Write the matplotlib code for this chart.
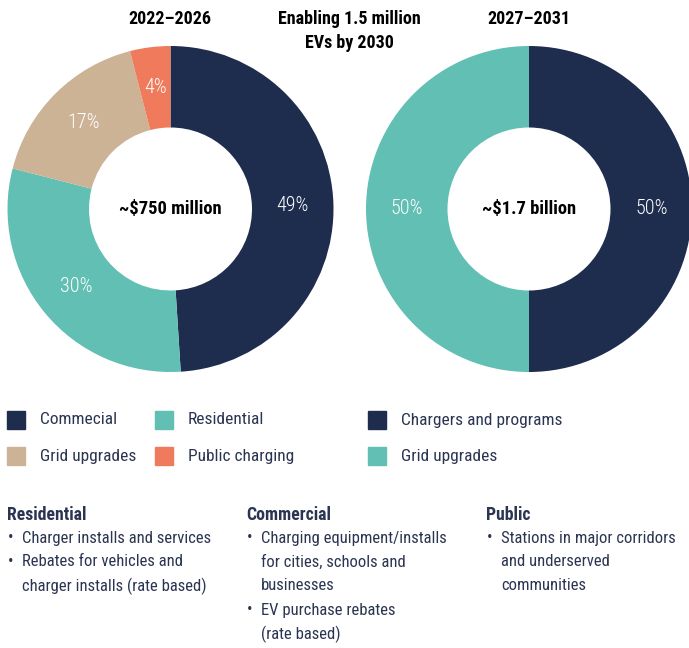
import numpy as np
import matplotlib
matplotlib.use("Agg")
import matplotlib.pyplot as plt

# data
left_labels = ["Commecial", "Residential", "Grid upgrades", "Public charging"]
left_values = [49, 30, 17, 4]
right_labels = ["Chargers and programs", "Grid upgrades"]
right_values = [50, 50]

navy, teal, tan, orange = "#1e2c4e", "#62bfb3", "#cdb396", "#ef7b5c"
left_colors = [navy, teal, tan, orange]
right_colors = [navy, teal]
txt_col = "#2b3552"

plt.rcParams["font.family"] = ["Roboto Condensed", "DejaVu Sans"]

W, H = 689, 648
fig = plt.figure(figsize=(W / 100, H / 100), dpi=100)


def px_axes(x0, y0, x1, y1):
    return fig.add_axes([x0 / W, 1 - y1 / H, (x1 - x0) / W, (y1 - y0) / H])


def donut(ax, values, colors, center_text):
    ax.pie(values, colors=colors, startangle=90, counterclock=False,
           radius=1, wedgeprops=dict(width=0.5, linewidth=0))
    total = sum(values)
    start = 90
    for v in values:
        mid = np.deg2rad(start - v / total * 180)
        ax.text(0.75 * np.cos(mid), 0.75 * np.sin(mid), f"{v}%", color="white",
                ha="center", va="center", fontsize=14.5, fontweight="light")
        start -= v / total * 360
    ax.text(0, 0, center_text, ha="center", va="center", fontsize=13.3,
            fontweight="bold", color="black")
    ax.set_xlim(-1, 1)
    ax.set_ylim(-1, 1)
    ax.set_aspect("equal")
    ax.axis("off")


ax1 = px_axes(7, 46, 334, 372)
donut(ax1, left_values, left_colors, "~$750 million")
ax2 = px_axes(366, 46, 692, 372)
donut(ax2, right_values, right_colors, "~$1.7 billion")


def ftxt(x, y, s, **kw):
    fig.text(x / W, 1 - y / H, s, **kw)


ftxt(170, 19, "2022\u20132026", ha="center", va="center", fontsize=13, fontweight="bold")
ftxt(349, 19, "Enabling 1.5 million", ha="center", va="center", fontsize=13, fontweight="bold")
ftxt(349, 43, "EVs by 2030", ha="center", va="center", fontsize=13, fontweight="bold")
ftxt(529, 19, "2027\u20132031", ha="center", va="center", fontsize=13, fontweight="bold")

# legend
leg_items = [
    (7, 420, navy, left_labels[0]), (155, 420, teal, left_labels[1]),
    (7, 456, tan, left_labels[2]), (155, 456, orange, left_labels[3]),
    (368, 420, navy, right_labels[0]), (368, 456, teal, right_labels[1]),
]
for x, y, c, lab in leg_items:
    fig.patches.append(plt.Rectangle((x / W, 1 - (y + 9) / H), 18 / W, 18 / H,
                                     transform=fig.transFigure, color=c, figure=fig))
    ftxt(x + 33, y, lab, ha="left", va="center", fontsize=12.5, color=txt_col)

# notes
notes = [
    (7, "Residential", [["Charger installs and services"],
                        ["Rebates for vehicles and", "charger installs (rate based)"]]),
    (246, "Commercial", [["Charging equipment/installs", "for cities, schools and", "businesses"],
                         ["EV purchase rebates", "(rate based)"]]),
    (486, "Public", [["Stations in major corridors", "and underserved", "communities"]]),
]
for x, head, bullets in notes:
    ftxt(x, 515, head, ha="left", va="center", fontsize=12.8, fontweight="bold", color=txt_col)
    y = 538
    for b in bullets:
        ftxt(x + 1, y, "\u2022", ha="left", va="center", fontsize=12, color=txt_col)
        for line in b:
            ftxt(x + 15, y, line, ha="left", va="center", fontsize=12, color=txt_col)
            y += 24

fig.savefig("out.png", dpi=100)
